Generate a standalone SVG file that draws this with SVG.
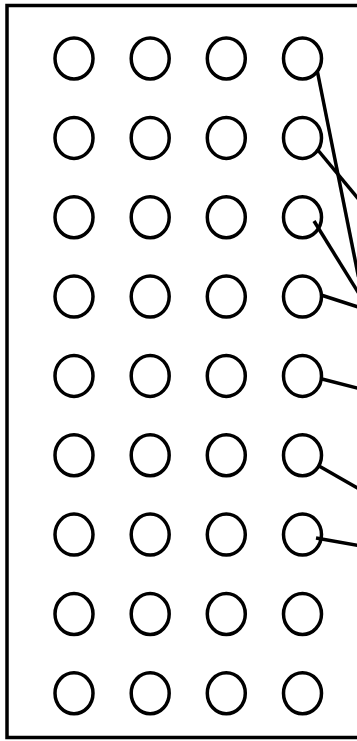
<svg xmlns="http://www.w3.org/2000/svg" width="357" height="741" viewBox="0 0 357 741">
<style>
.n{fill:none;stroke:#000;stroke-width:3.5}
.c line{stroke:#000;stroke-width:3.5;stroke-linecap:butt}
</style>
<defs><ellipse id="o" class="n" cx="0" cy="0" rx="19" ry="20.5"/></defs>
<rect x="7" y="5.5" width="400" height="732" fill="#fff" stroke="#000" stroke-width="3.5"/>
<g id="nodes">
<g id="r1"><use href="#o" x="74" y="58.5"/><use href="#o" x="150.2" y="58.5"/><use href="#o" x="226.3" y="58.5"/><use href="#o" x="302.5" y="58.5"/></g>
<g id="r2"><use href="#o" x="74" y="137.9"/><use href="#o" x="150.2" y="137.9"/><use href="#o" x="226.3" y="137.9"/><use href="#o" x="302.5" y="137.9"/></g>
<g id="r3"><use href="#o" x="74" y="217.2"/><use href="#o" x="150.2" y="217.2"/><use href="#o" x="226.3" y="217.2"/><use href="#o" x="302.5" y="217.2"/></g>
<g id="r4"><use href="#o" x="74" y="296.6"/><use href="#o" x="150.2" y="296.6"/><use href="#o" x="226.3" y="296.6"/><use href="#o" x="302.5" y="296.6"/></g>
<g id="r5"><use href="#o" x="74" y="375.9"/><use href="#o" x="150.2" y="375.9"/><use href="#o" x="226.3" y="375.9"/><use href="#o" x="302.5" y="375.9"/></g>
<g id="r6"><use href="#o" x="74" y="455.3"/><use href="#o" x="150.2" y="455.3"/><use href="#o" x="226.3" y="455.3"/><use href="#o" x="302.5" y="455.3"/></g>
<g id="r7"><use href="#o" x="74" y="534.6"/><use href="#o" x="150.2" y="534.6"/><use href="#o" x="226.3" y="534.6"/><use href="#o" x="302.5" y="534.6"/></g>
<g id="r8"><use href="#o" x="74" y="614"/><use href="#o" x="150.2" y="614"/><use href="#o" x="226.3" y="614"/><use href="#o" x="302.5" y="614"/></g>
<g id="r9"><use href="#o" x="74" y="693.3"/><use href="#o" x="150.2" y="693.3"/><use href="#o" x="226.3" y="693.3"/><use href="#o" x="302.5" y="693.3"/></g>
</g>
<g id="connectors" class="c">
<line x1="317.5" y1="72" x2="358.5" y2="277"/>
<line x1="317" y1="149" x2="361" y2="202"/>
<line x1="314" y1="221" x2="361" y2="297"/>
<line x1="321" y1="295" x2="361" y2="308"/>
<line x1="322" y1="379" x2="361" y2="389"/>
<line x1="319" y1="466" x2="361" y2="490"/>
<line x1="316" y1="538" x2="361" y2="546"/>
</g>
</svg>
